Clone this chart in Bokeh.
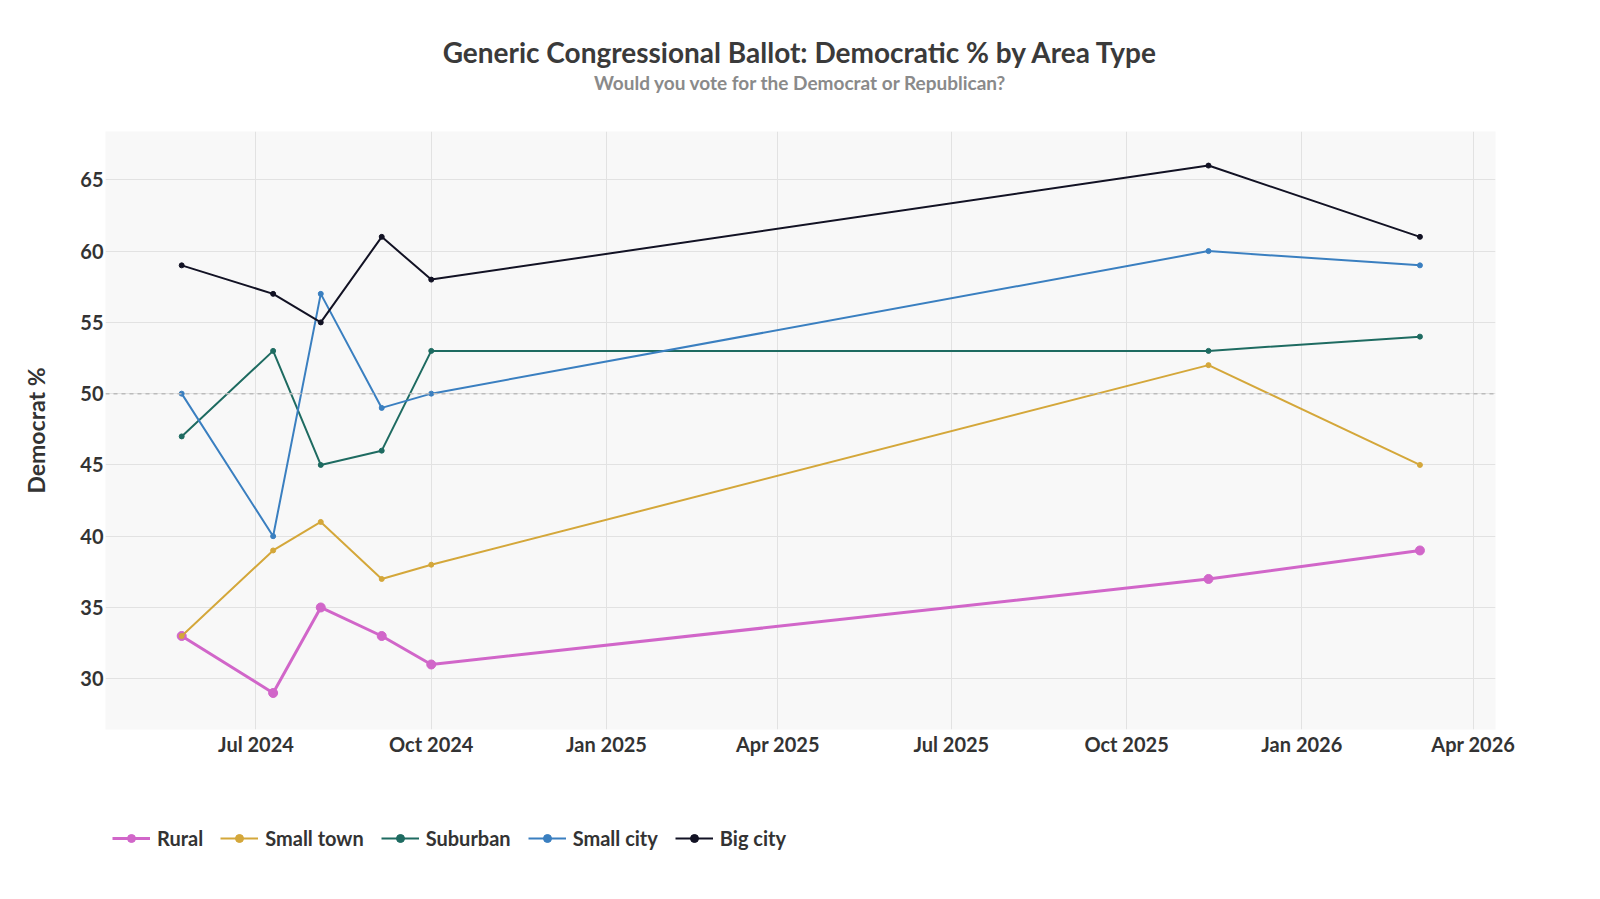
import pandas as pd
from bokeh.plotting import figure
from bokeh.layouts import column
from bokeh.models import (Range1d, FixedTicker, DatetimeTickFormatter, Span, Legend,
                          LegendItem, Title, LinearAxis, DatetimeAxis, Grid)
from bokeh.embed import file_html
from bokeh.resources import INLINE

dates = ["2024-05-23", "2024-07-10", "2024-08-04", "2024-09-05", "2024-10-01",
         "2025-11-13", "2026-03-04"]
rural = [33, 29, 35, 33, 31, 37, 39]
small_town = [33, 39, 41, 37, 38, 52, 45]
suburban = [47, 53, 45, 46, 53, 53, 54]
small_city = [50, 40, 57, 49, 50, 60, 59]
big_city = [59, 57, 55, 61, 58, 66, 61]

series_names = ["Rural", "Small town", "Suburban", "Small city", "Big city"]
series_values = [rural, small_town, suburban, small_city, big_city]
colors = ["#d166c9", "#d4a73a", "#1e6b61", "#3a7fc0", "#121224"]
line_widths = [3, 2, 2, 2, 2]
marker_sizes = [9, 5, 5, 5, 5]

tick_dates = ["2024-07-01", "2024-10-01", "2025-01-01", "2025-04-01",
              "2025-07-01", "2025-10-01", "2026-01-01", "2026-04-01"]
y_ticks = [30, 35, 40, 45, 50, 55, 60, 65]

title_text = "Generic Congressional Ballot: Democratic % by Area Type"
subtitle_text = "Would you vote for the Democrat or Republican?"

x = pd.to_datetime(dates)
tick_ms = [pd.Timestamp(d).value / 1e6 for d in tick_dates]

FONT = "Lato"
W = 1584
FL, FR, FT, FB = 105, 1495, 131, 729
MB = 91
HS = 100  # height of the title strip

x_start, x_end = pd.Timestamp("2024-04-13"), pd.Timestamp("2026-04-12 16:00")

# ---- title strip ----
tf = figure(width=W, height=HS, output_backend="svg", toolbar_location=None,
            x_axis_type=None, y_axis_type=None,
            x_range=Range1d(x_start, x_end), y_range=Range1d(0, 1),
            min_border_left=0, min_border_right=0, min_border_top=93,
            min_border_bottom=0)
tf.outline_line_color = None
tf.background_fill_color = "white"
tf.border_fill_color = "white"
tf.grid.visible = False
tf.add_layout(Title(text=subtitle_text, align="center", standoff=0,
                    text_font=FONT, text_font_size="19px", text_font_style="bold",
                    text_color="#8a8a8a"), "above")
tf.add_layout(Title(text=title_text, align="center", standoff=0,
                    text_font=FONT, text_font_size="28px", text_font_style="bold",
                    text_color="#3a3a3a"), "above")

# ---- main chart ----
p = figure(width=W, height=FB + MB - HS, x_axis_type=None, y_axis_type=None,
           output_backend="svg", toolbar_location=None,
           x_range=Range1d(x_start, x_end), y_range=Range1d(26.44, 68.39),
           min_border_left=FL, min_border_right=W - FR, min_border_top=FT - HS,
           min_border_bottom=MB)

p.background_fill_color = "#f8f8f8"
p.border_fill_color = "white"
p.outline_line_color = None

xaxis = DatetimeAxis(ticker=FixedTicker(ticks=tick_ms),
                     formatter=DatetimeTickFormatter(months="%b %Y", days="%b %Y",
                                                     years="%b %Y"))
yaxis = LinearAxis(ticker=FixedTicker(ticks=y_ticks))
for ax in (xaxis, yaxis):
    ax.axis_line_color = None
    ax.major_tick_line_color = None
    ax.minor_tick_line_color = None
    ax.major_tick_out = 0
    ax.major_tick_in = 0
    ax.minor_tick_out = 0
    ax.minor_tick_in = 0
    ax.major_label_text_font = FONT
    ax.major_label_text_font_size = "20px"
    ax.major_label_text_font_style = "bold"
    ax.major_label_text_color = "#333333"
xaxis.major_label_standoff = 2
yaxis.major_label_standoff = 2
yaxis.axis_label = "Democrat %"
yaxis.axis_label_text_font = FONT
yaxis.axis_label_text_font_size = "23px"
yaxis.axis_label_text_font_style = "bold"
yaxis.axis_label_text_color = "#333333"
yaxis.axis_label_standoff = 27
p.add_layout(xaxis, "below")
p.add_layout(yaxis, "left")

p.add_layout(Grid(dimension=0, ticker=FixedTicker(ticks=tick_ms),
                  grid_line_color="#e2e2e2", grid_line_width=1))
p.add_layout(Grid(dimension=1, ticker=FixedTicker(ticks=y_ticks),
                  grid_line_color="#e2e2e2", grid_line_width=1))

p.add_layout(Span(location=50, dimension="width", line_color="#bbbbbb",
                  line_dash="4 4", line_width=1.5))

# ---- legend strip ----
lg = figure(width=W, height=40, output_backend="svg", toolbar_location=None,
            x_axis_type=None, y_axis_type=None,
            x_range=Range1d(x_start, x_end), y_range=Range1d(26.44, 68.39),
            min_border_left=0, min_border_right=0, min_border_top=0, min_border_bottom=0)
lg.outline_line_color = None
lg.background_fill_color = "white"
lg.border_fill_color = "white"
lg.grid.visible = False

items = []
for name, vals, c, lw, ms in zip(series_names, series_values, colors, line_widths, marker_sizes):
    p.line(x, vals, line_color=c, line_width=lw)
    p.scatter(x, vals, size=ms, fill_color=c, line_color=c)
    r1 = lg.line(x, vals, line_color=c, line_width=lw, visible=False)
    r2 = lg.scatter(x, vals, size=ms, fill_color=c, line_color=c, visible=False)
    items.append(LegendItem(label=name, renderers=[r1, r2]))

legend = Legend(items=items, orientation="horizontal", location=(7, 10),
                label_text_font=FONT, label_text_font_size="20px",
                label_text_font_style="bold", label_text_color="#333333",
                glyph_width=38, glyph_height=20, spacing=17, label_standoff=7,
                border_line_color=None, background_fill_alpha=0,
                inactive_fill_alpha=0, margin=0, padding=0)
lg.add_layout(legend, "center")

layout = column(tf, p, lg, spacing=0)
open("out.html", "w").write(file_html(layout, INLINE))
